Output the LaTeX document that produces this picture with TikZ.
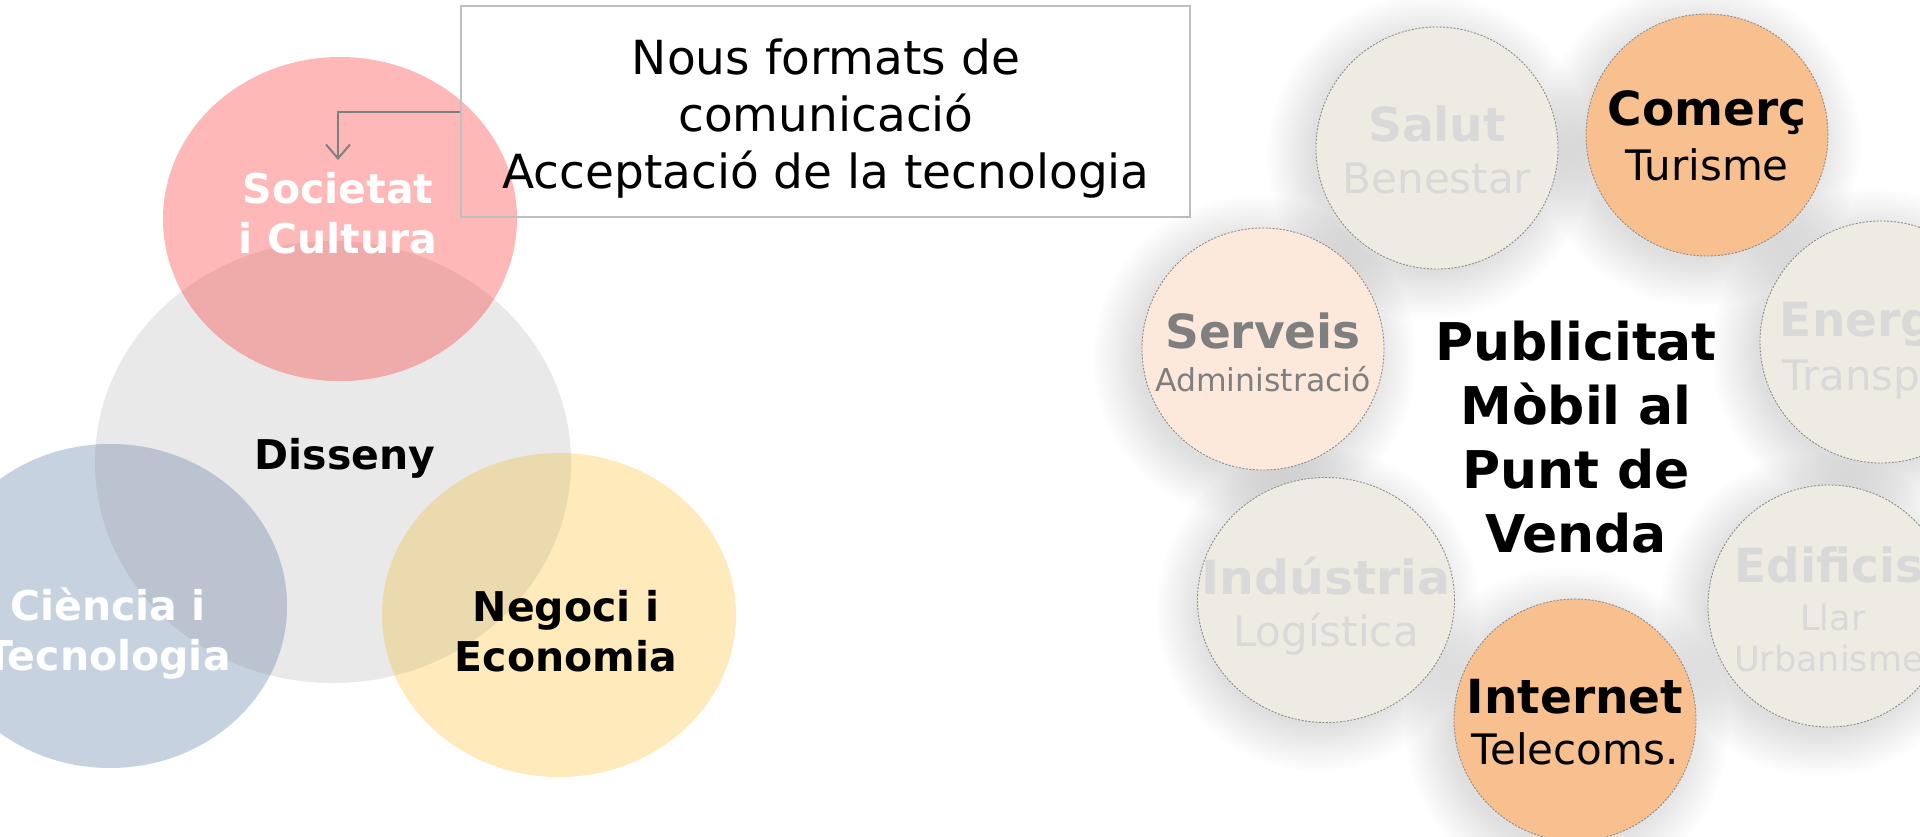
\documentclass[tikz,border=0pt]{standalone}
\usepackage{fontspec}
\setmainfont{DejaVu Sans}
\usetikzlibrary{arrows.meta}
\usetikzlibrary{shapes.geometric}

\definecolor{venngrey}{HTML}{E9E9E9}
\definecolor{vennpink}{HTML}{FEB8B8}
\definecolor{pinkover}{HTML}{EFAAAA}
\definecolor{vennblue}{HTML}{C6D2E0}
\definecolor{blueover}{HTML}{BBC3D0}
\definecolor{vennyellow}{HTML}{FEEABA}
\definecolor{yellowover}{HTML}{EBDAAE}
\definecolor{boxgrey}{HTML}{BFBFBF}
\definecolor{arrowgrey}{HTML}{7F7F7F}
\definecolor{sectorbeige}{HTML}{EDEBE2}
\definecolor{sectororange}{HTML}{F8C08F}
\definecolor{sectorpeach}{HTML}{FDE9DB}
\definecolor{textlight}{HTML}{D9D9D9}
\definecolor{textmid}{HTML}{7F7F7F}
\definecolor{dashgrey}{HTML}{8C8C8C}

\tikzset{
  venntext/.style={font=\bfseries\fontsize{41}{50}\selectfont, align=center, inner sep=0pt},
  sector/.style={circle, draw=dashgrey, dash pattern=on 2pt off 1.5pt, line width=0.9pt, minimum size=242pt, inner sep=0pt},
  sectortitle/.style={font=\bfseries\fontsize{47}{56}\selectfont, anchor=base, inner sep=0pt},
  sectorsub/.style={font=\fontsize{42}{50}\selectfont, anchor=base, inner sep=0pt},
}

\begin{document}
\begin{tikzpicture}[x=1pt,y=-1pt]
\useasboundingbox (0,0) rectangle (1920,836);
\fill[white] (0,0) rectangle (1920,836);

% venn diagram
\fill[venngrey] (333,462) ellipse [x radius=238, y radius=221];
\fill[vennpink] (340,219) ellipse [x radius=177, y radius=162];
\fill[vennblue] (110,606) ellipse [x radius=177, y radius=162];
\fill[vennyellow] (559,615) ellipse [x radius=177, y radius=162];
\begin{scope}
\clip (333,462) ellipse [x radius=238, y radius=221];
\fill[pinkover] (340,219) ellipse [x radius=177, y radius=162];
\fill[blueover] (110,606) ellipse [x radius=177, y radius=162];
\fill[yellowover] (559,615) ellipse [x radius=177, y radius=162];
\end{scope}

\node[venntext, text=white] (societat) at (338,213) {Societat\\i Cultura};
\node[venntext] (disseny) at (345,458) {Disseny};
\node[venntext, text=white] (ciencia) at (108,634) {Ciència i\\Tecnologia};
\node[venntext] (negoci) at (566,631) {Negoci i\\Economia};

% callout
\node[draw=boxgrey, line width=1.5pt, minimum width=729pt, minimum height=211pt, inner sep=0pt] (formats) at (825.5,111.5) {};
\node[font=\fontsize{47}{57}\selectfont, align=center, inner sep=0pt] (formatstext) at (826,119) {Nous formats de\\comunicació\\Acceptació de la tecnologia};
\coordinate (arrowend) at (338,160);
\draw[arrowgrey, line width=2pt, -{Straight Barb[length=14pt,width=24pt]}] (formats.west) -| (arrowend);

% soft shadows under the sectors
\foreach \cx/\cy in {1437/148, 1707/135, 1881/342, 1263/349, 1326/600, 1575/720, 1829/606}
  \foreach \k in {1,...,16}
    \fill[black, opacity=0.009] (\cx-8,\cy+9) circle ({114+3*\k});

% sectors
\node[sector, fill=sectorbeige] (salut) at (1437,148) {};
\node[sectortitle, text=textlight] (saluttitle) at (1437,141) {Salut};
\node[sectorsub, text=textlight] (salutsub) at (1437,193) {Benestar};

\node[sector, fill=sectororange] (comerc) at (1707,135) {};
\node[sectortitle] (comerctitle) at (1707,125) {Comerç};
\node[sectorsub] (comercsub) at (1707,180) {Turisme};

\node[sector, fill=sectorbeige] (energia) at (1881,342) {};
\node[sectortitle, text=textlight] (energiatitle) at (1881,336) {Energia};
\node[sectorsub, text=textlight] (energiasub) at (1881,390) {Transport};

\node[sector, fill=sectorpeach] (serveis) at (1263,349) {};
\node[sectortitle, text=textmid] (serveistitle) at (1263,348) {Serveis};
\node[sectorsub, text=textmid, font=\fontsize{31.5}{38}\selectfont] (serveissub) at (1263,391) {Administració};

\node[sector, ellipse, fill=sectorbeige, minimum width=257pt, minimum height=245pt] (industria) at (1326,600) {};
\node[sectortitle, text=textlight, xscale=1.04] (industriatitle) at (1326,594) {Indústria};
\node[sectorsub, text=textlight] (industriasub) at (1326,646) {Logística};

\node[sector, fill=sectororange] (internet) at (1575,720) {};
\node[sectortitle] (internettitle) at (1575,713) {Internet};
\node[sectorsub] (internetsub) at (1575,764) {Telecoms.};

\node[sector, fill=sectorbeige] (edificis) at (1829,606) {};
\node[sectortitle, text=textlight] (edificistitle) at (1829,582) {Edificis};
\node[sectorsub, text=textlight, font=\fontsize{35}{42}\selectfont] (edificissub1) at (1833,630) {Llar};
\node[sectorsub, text=textlight, font=\fontsize{35}{42}\selectfont] (edificissub2) at (1829,671) {Urbanisme};

\node[font=\bfseries\fontsize{52}{64}\selectfont, align=center, inner sep=0pt] (publicitat) at (1576,437) {Publicitat\\Mòbil al\\Punt de\\Venda};

\end{tikzpicture}
\end{document}
